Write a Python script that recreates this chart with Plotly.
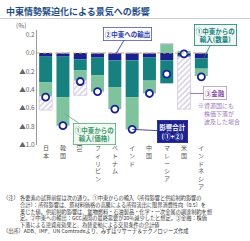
import plotly.graph_objects as go

# ---------------- data ----------------
categories = ["日本", "韓国", "EU", "フィリピン", "ベトナム", "インド", "中国", "マレーシア", "米国", "インドネシア"]
export_me = [-0.04, -0.04, -0.07, -0.05, -0.08, -0.08, -0.05, -0.08, -0.03, -0.06]      # ②中東への輸出
import_qty = [-0.28, -0.44, -0.12, -0.19, -0.29, -0.40, -0.25, -0.25, -0.01, -0.11]     # ①中東からの輸入(数量)
import_price = [-0.15, -0.31, -0.11, -0.18, -0.24, -0.35, -0.14, 0.10, 0.02, -0.08]     # ①中東からの輸入(価格)
finance = [-0.15, 0.0, -0.16, 0.0, 0.0, 0.0, 0.0, 0.0, -0.57, 0.0]                      # ③金融
total_12 = [-0.48, -0.79, -0.31, -0.42, -0.61, -0.83, -0.44, -0.23, -0.01, -0.26]       # 影響合計(①+②)
tick_vals = [0.2, 0.0, -0.2, -0.4, -0.6, -0.8, -1.0]
tick_text = ["0.2", "0.0", "▲0.2", "▲0.4", "▲0.6", "▲0.8", "▲1.0"]

title_text = "中東情勢緊迫化による景気への影響"
note_head = "（注）"
note_body = [
    "各要素の試算前提は次の通り。①中東からの輸入（所得影響と供給制約影響の",
    "合計）：所得影響は、原材料価格の高騰による所得流出に限界消費性向（0.5）を",
    "乗じた値。供給制約影響は、鉱物燃料・石油製品・化学・一次金属の調達制約を想",
    "定。②中東への輸出：GCC諸国の最終需要が20％減少したと想定。③金融：株価",
    "下落による逆資産効果と、為替変動による交易条件の合計値",
]
source_text = "（出所）ADB、IMF、UN Comtradeより、みずほリサーチ＆テクノロジーズ作成"

# ---------------- style ----------------
FONT = "Noto Sans CJK JP"
NAVY = "#1c2190"
TEAL = "#17817f"
LGREEN = "#7fc29e"
HATCH = "#a396bf"
PURPLE = "#8a4fae"

W, H = 250, 241
L, R, T, B = 37, 210, 30, 145


def px(xp):
    return (xp - L) / (R - L)


def py(yp):
    return (B - yp) / (B - T)


fig = go.Figure()
fig.add_trace(go.Bar(x=categories, y=export_me, marker=dict(color=NAVY, line=dict(width=0)), name="②"))
fig.add_trace(go.Bar(x=categories, y=import_qty, marker=dict(color=TEAL, line=dict(width=0)), name="①数量"))
fig.add_trace(go.Bar(x=categories, y=import_price, marker=dict(color=LGREEN, line=dict(width=0)), name="①価格"))
fig.add_trace(go.Bar(x=categories, y=finance,
                     marker=dict(color="white",
                                 pattern=dict(shape="/", fgcolor=HATCH, bgcolor="white", size=4, solidity=0.35),
                                 line=dict(color="#c4bcd6", width=0.6)),
                     name="③金融"))
fig.add_trace(go.Scatter(x=categories, y=total_12, mode="markers",
                         marker=dict(symbol="circle", size=7, color="white", line=dict(color=NAVY, width=1.8)),
                         name="影響合計"))

annotations = []

# title
annotations.append(dict(x=px(4), y=py(11), xref="paper", yref="paper", xanchor="left", yanchor="middle",
                        text="<b>" + title_text + "</b>", showarrow=False,
                        font=dict(family=FONT, size=9, color="#1f4e86")))
# (%)
annotations.append(dict(x=px(21), y=py(25), xref="paper", yref="paper", xanchor="center", yanchor="middle",
                        text="(%)", showarrow=False, font=dict(family=FONT, size=6.5, color="#555")))

# category labels (vertical)
for i, c in enumerate(categories):
    if c == "EU":
        annotations.append(dict(x=i, y=py(144), xref="x", yref="paper", xanchor="center", yanchor="top",
                                text=c, textangle=90, showarrow=False, borderpad=0,
                                font=dict(family=FONT, size=6, color="#555")))
    else:
        annotations.append(dict(x=i, y=py(142), xref="x", yref="paper", xanchor="center", yanchor="top",
                                text="<br>".join(list(c)), showarrow=False, borderpad=0,
                                font=dict(family=FONT, size=6, color="#555")))

# callouts
annotations.append(dict(x=4, y=-0.03, xref="x", yref="y", ax=13, ay=-22,
                        text="<b>②中東への輸出</b>", showarrow=True, arrowhead=0, arrowwidth=0.8, arrowcolor=NAVY,
                        font=dict(family=FONT, size=6.5, color="#2b3aa6"), bgcolor="white",
                        bordercolor="#4b58b8", borderwidth=0.8, borderpad=1))
annotations.append(dict(x=9, y=-0.11, xref="x", yref="y", ax=14, ay=-28,
                        text="<b>①中東からの<br>輸入(数量)</b>", showarrow=True, arrowhead=0, arrowwidth=0.8,
                        arrowcolor=TEAL, font=dict(family=FONT, size=6.5, color=TEAL), bgcolor="#f1f8f4",
                        bordercolor=TEAL, borderwidth=0.8, borderpad=1))
annotations.append(dict(x=1.1, y=-0.66, xref="x", yref="y", ax=30, ay=20,
                        text="<b>①中東からの<br>輸入(価格)</b>", showarrow=True, arrowhead=0, arrowwidth=0.8,
                        arrowcolor="#5aa97e", font=dict(family=FONT, size=6.5, color="#3e9a6a"), bgcolor="#f1f9f3",
                        bordercolor="#5aa97e", borderwidth=0.8, borderpad=1))
annotations.append(dict(x=5, y=-0.83, xref="x", yref="y", ax=40, ay=2,
                        text="<b>影響合計<br>(①+②)</b>", showarrow=True, arrowhead=0, arrowwidth=0.8,
                        arrowcolor=NAVY, font=dict(family=FONT, size=6.5, color="white"), bgcolor=NAVY,
                        bordercolor=NAVY, borderwidth=0.8, borderpad=1.5))
annotations.append(dict(x=8.35, y=-0.44, xref="x", yref="y", ax=25, ay=0,
                        text="<b>③金融</b>", showarrow=True, arrowhead=0, arrowwidth=0.8,
                        arrowcolor=PURPLE, font=dict(family=FONT, size=6.5, color=PURPLE), bgcolor="white",
                        bordercolor="#b595c8", borderwidth=0.8, borderpad=1))
annotations.append(dict(x=px(196), y=py(99), xref="paper", yref="paper", xanchor="left", yanchor="top",
                        text="※資源国にも<br>　株価下落が<br>　波及した場合", align="left", showarrow=False,
                        font=dict(family=FONT, size=6, color="#9b78bd")))

# footnotes
annotations.append(dict(x=px(2), y=py(192.5), xref="paper", yref="paper", xanchor="left", yanchor="top",
                        text=note_head, showarrow=False, borderpad=0,
                        font=dict(family=FONT, size=5.2, color="#333")))
annotations.append(dict(x=px(19), y=py(192.5), xref="paper", yref="paper", xanchor="left", yanchor="top",
                        text="<br>".join(note_body), align="left", showarrow=False, borderpad=0,
                        font=dict(family=FONT, size=5.2, color="#333")))
annotations.append(dict(x=px(2), y=py(230.5), xref="paper", yref="paper", xanchor="left", yanchor="middle",
                        text=source_text, showarrow=False, borderpad=0,
                        font=dict(family=FONT, size=5.2, color="#333")))

shapes = [
    dict(type="line", xref="paper", yref="y", x0=0, x1=1, y0=0, y1=0,
         line=dict(color="#c9b46a", width=1, dash="dot"), layer="above"),
    dict(type="line", xref="paper", yref="paper", x0=px(0), x1=px(250), y0=py(18.5), y1=py(18.5),
         line=dict(color="#cfcfcf", width=1)),
]

fig.update_layout(
    width=W, height=H,
    margin=dict(l=L, r=W - R, t=T, b=H - B),
    barmode="relative", bargap=0.25,
    showlegend=False,
    paper_bgcolor="white", plot_bgcolor="white",
    font=dict(family=FONT),
    annotations=annotations, shapes=shapes,
    xaxis=dict(range=[-0.5, 9.5], showticklabels=False, showgrid=False, zeroline=False, showline=False,
               ticks=""),
    yaxis=dict(range=[-1.0, 0.25], tickvals=tick_vals, ticktext=tick_text, showgrid=False, zeroline=False,
               showline=True, linecolor="#9a9a9a", linewidth=1, ticks="",
               tickfont=dict(family=FONT, size=6.5, color="#666")),
)

fig.write_html("out.html")
